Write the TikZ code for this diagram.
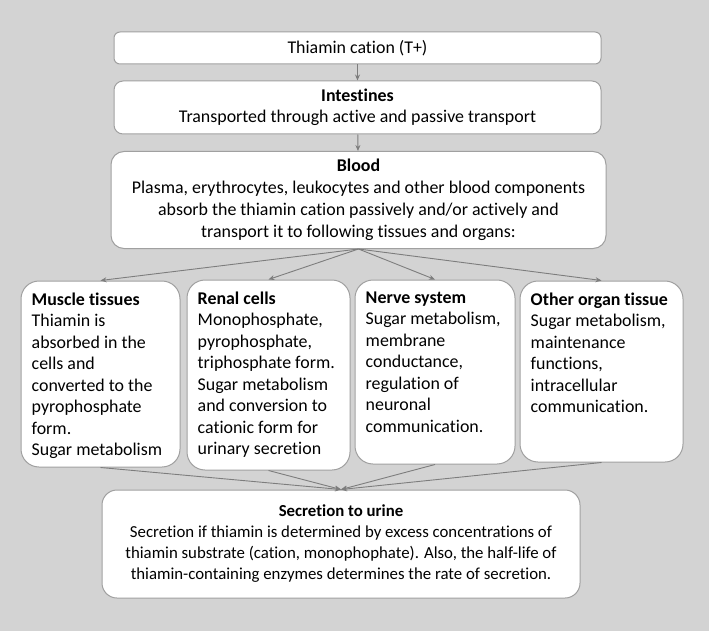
\documentclass[tikz,border=0pt]{standalone}
\usepackage{fontspec}
\setmainfont{Carlito}[Ligatures=NoCommon]
\usetikzlibrary{arrows.meta,positioning}
\definecolor{bggray}{RGB}{211,211,211}
\definecolor{boxline}{RGB}{160,160,160}
\definecolor{arrowgray}{RGB}{125,125,125}
\begin{document}
\begin{tikzpicture}
  [x=1pt,y=-1pt,
   box/.style={draw=boxline,fill=white,line width=1pt,align=center,inner sep=0pt,
     font=\fontsize{17.9}{21.5}\selectfont},
   organ/.style={box,rounded corners=18pt},
   txt/.style={align=left,anchor=north west,inner sep=0pt,
     font=\fontsize{17.9}{21.5}\selectfont},
   link/.style={draw=arrowgray,line width=0.9pt,-{Stealth[length=6pt,width=5pt]}}]
  \useasboundingbox[fill=bggray] (0,0) rectangle (709,631);

  \node[box,rounded corners=6pt,minimum width=487pt,minimum height=32pt] (cation) at (357.5,48) {Thiamin cation (T+)};
  \node[box,rounded corners=9pt,minimum width=487pt,minimum height=53pt] (intest) at (357.5,107.5)
    {\textbf{Intestines}\\Transported through active and passive transport};
  \node[box,rounded corners=13pt,minimum width=495pt,minimum height=97pt,
    font=\fontsize{17.9}{22}\selectfont] (blood) at (358.5,200)
    {\textbf{Blood}\\Plasma, erythrocytes, leukocytes and other blood components\\
     absorb the thiamin cation passively and/or actively and\\
     transport it to following tissues and organs:};

  \node[organ,minimum width=159pt,minimum height=186pt] (muscle) at (100.5,374) {};
  \node[organ,minimum width=163pt,minimum height=190pt] (renal) at (268.5,375) {};
  \node[organ,minimum width=160pt,minimum height=184pt] (nerve) at (435,372) {};
  \node[organ,minimum width=163pt,minimum height=181pt] (other) at (601.5,371.5) {};

  \node[txt] (muscletxt) at ([xshift=11pt,yshift=-12pt]muscle.north west)
    {\textbf{Muscle tissues}\\Thiamin is\\absorbed in the\\cells and\\converted to the\\pyrophosphate\\form.\\Sugar metabolism};
  \node[txt] (renaltxt) at ([xshift=11pt,yshift=-12pt]renal.north west)
    {\textbf{Renal cells}\\Monophosphate,\\pyrophosphate,\\triphosphate form.\\Sugar metabolism\\and conversion to\\cationic form for\\urinary secretion};
  \node[txt] (nervetxt) at ([xshift=11pt,yshift=-12pt]nerve.north west)
    {\textbf{Nerve system}\\Sugar metabolism,\\membrane\\conductance,\\regulation of\\neuronal\\communication.};
  \node[txt] (othertxt) at ([xshift=11pt,yshift=-12pt]other.north west)
    {\textbf{Other organ tissue}\\Sugar metabolism,\\maintenance\\functions,\\intracellular\\communication.};

  \node[box,rounded corners=15pt,minimum width=478pt,minimum height=108pt,
    font=\fontsize{16.8}{21}\selectfont] (urine) at (341,544)
    {\textbf{Secretion to urine}\\Secretion if thiamin is determined by excess concentrations of\\
     thiamin substrate (cation, monophophate). Also, the half-life of\\
     thiamin-containing enzymes determines the rate of secretion.};

  \foreach \from/\to in {cation/intest,intest/blood}
    \draw[link] (\from) -- (\to);
  \foreach \to in {muscle,renal,nerve,other}
    \draw[link] (blood.south) -- (\to.north);
  \foreach \from in {muscle,renal,nerve,other}
    \draw[link] (\from.south) -- (urine.north);
\end{tikzpicture}
\end{document}
